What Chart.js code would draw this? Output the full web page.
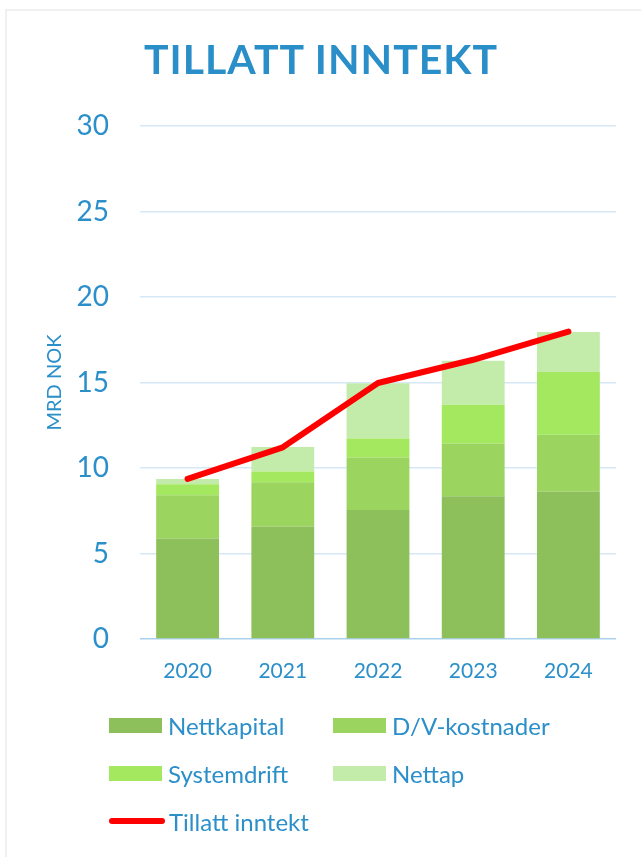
<!DOCTYPE html>
<html>
<head>
<meta charset="utf-8">
<script src="https://cdn.jsdelivr.net/npm/chart.js@4/dist/chart.umd.min.js"></script>
<style>
  html, body { margin: 0; padding: 0; background: #fff; }
  #wrap { position: relative; width: 641px; height: 857px; overflow: hidden; }
  #frame { position: absolute; left: 5px; top: 9px; width: 700px; height: 900px;
           border-left: 2px solid #f0f0f0; border-top: 2px solid #f0f0f0; box-sizing: border-box; }
  canvas { position: absolute; left: 0; top: 0; }
  #title { position: absolute; left: 21px; width: 600px; top: 34px; text-align: center;
           font-family: Lato, sans-serif; font-weight: bold; font-size: 41px; line-height: 50px;
           letter-spacing: 1px; color: #2a8fc8; white-space: nowrap; }
  #legend { position: absolute; left: 109px; top: 708px; font-family: Lato, sans-serif;
            font-size: 24px; color: #2b8fc9; }
  .item { position: absolute; display: flex; align-items: center; white-space: nowrap; height: 34px; }
  .sw { width: 53px; height: 15px; margin-right: 6px; }
  .ln { width: 56px; height: 6px; border-radius: 3px; margin-right: 4px; }
</style>
</head>
<body>
<div id="wrap">
  <div id="frame"></div>
  <canvas id="c" width="641" height="857"></canvas>
  <div id="title">TILLATT INNTEKT</div>
  <div id="legend"></div>
</div>
<script>
const categories = ['2020', '2021', '2022', '2023', '2024'];
const nettkapital = [5.88, 6.58, 7.55, 8.35, 8.62];
const dvKostnader = [2.53, 2.59, 3.07, 3.09, 3.33];
const systemdrift = [0.64, 0.62, 1.10, 2.26, 3.66];
const nettap = [0.31, 1.44, 3.23, 2.57, 2.35];
const tillattInntekt = [9.36, 11.21, 14.97, 16.33, 17.98];
const yTicks = [0, 5, 10, 15, 20, 25, 30];

const blue = '#2b8fc9';
const barPct = 0.66;

const chart = new Chart(document.getElementById('c'), {
  data: {
    labels: categories,
    datasets: [
      { type: 'line', label: 'Tillatt inntekt', data: tillattInntekt, stack: 'line',
        borderColor: '#ff0000', backgroundColor: '#ff0000', borderWidth: 6, pointRadius: 0,
        tension: 0, borderCapStyle: 'round', borderJoinStyle: 'round', order: 0 },
      { type: 'bar', label: 'Nettkapital', data: nettkapital, backgroundColor: '#8dc05a', stack: 'bars', order: 1,
        barPercentage: barPct, categoryPercentage: 1 },
      { type: 'bar', label: 'D/V-kostnader', data: dvKostnader, backgroundColor: '#9bd55f', stack: 'bars', order: 1,
        barPercentage: barPct, categoryPercentage: 1 },
      { type: 'bar', label: 'Systemdrift', data: systemdrift, backgroundColor: '#a3e85e', stack: 'bars', order: 1,
        barPercentage: barPct, categoryPercentage: 1 },
      { type: 'bar', label: 'Nettap', data: nettap, backgroundColor: '#c3ecaa', stack: 'bars', order: 1,
        barPercentage: barPct, categoryPercentage: 1 }
    ]
  },
  options: {
    responsive: false,
    animation: false,
    layout: { padding: { left: 0, right: 25, top: 126, bottom: 158 } },
    plugins: {
      legend: { display: false },
      tooltip: { enabled: false },
      title: { display: false }
    },
    scales: {
      x: {
        stacked: true,
        grid: { display: false, drawTicks: false },
        border: { display: false },
        ticks: { color: blue, font: { family: 'Lato', size: 21 }, padding: 20, maxRotation: 0 },
        afterFit: (s) => { s.height = 60; }
      },
      y: {
        stacked: true, min: 0, max: 30,
        afterBuildTicks: (s) => { s.ticks = yTicks.map(v => ({ value: v })); },
        grid: { drawTicks: false, lineWidth: 1.5,
                color: (ctx) => ctx.tick && ctx.tick.value === 0 ? '#a9d1ec' : '#d6e8f5' },
        border: { display: false },
        ticks: { color: blue, font: { family: 'Lato', size: 28 }, padding: 31 },
        title: { display: true, text: 'MRD NOK', color: blue, font: { family: 'Lato', size: 20 },
                 padding: { top: 43, bottom: 0 } },
        afterFit: (s) => { s.width = 140; }
      }
    }
  }
});

// HTML legend built from the chart's datasets
const legendEl = document.getElementById('legend');
const order = ['Nettkapital', 'D/V-kostnader', 'Systemdrift', 'Nettap', 'Tillatt inntekt'];
const pos = [[0, 0], [224, 0], [0, 48], [224, 48], [0, 96]];
order.forEach((name, i) => {
  const ds = chart.data.datasets.find(d => d.label === name);
  const item = document.createElement('div');
  item.className = 'item';
  item.style.left = pos[i][0] + 'px';
  item.style.top = pos[i][1] + 'px';
  const sw = document.createElement('span');
  sw.className = ds.type === 'line' ? 'ln' : 'sw';
  sw.style.background = ds.type === 'line' ? ds.borderColor : ds.backgroundColor;
  const tx = document.createElement('span');
  tx.textContent = ds.label;
  item.appendChild(sw);
  item.appendChild(tx);
  legendEl.appendChild(item);
});
</script>
</body>
</html>
